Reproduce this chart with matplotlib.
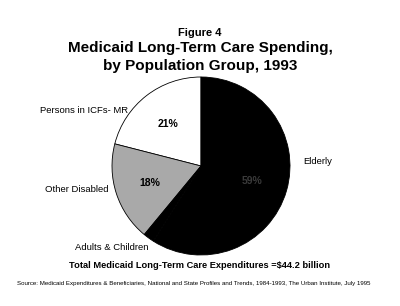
import matplotlib.pyplot as plt

plt.rcParams['font.family'] = ['Liberation Sans', 'DejaVu Sans']

# Share of Medicaid long-term care spending, 1993 (counter-clockwise from top)
groups = ['Persons in ICFs- MR', 'Other Disabled', 'Adults & Children', 'Elderly']
shares = [21, 18, 2, 59]
colors = ['white', '#a9a9a9', 'black', 'black']
pct_colors = ['black', 'black', 'black', '#3a3a3a']

fig = plt.figure(figsize=(4, 3.06), dpi=100)
fig.patch.set_facecolor('white')

# pie axes: center ~(201,166) px, radius ~89 px
ax = fig.add_axes([112 / 400, (306 - 166 - 89) / 306, 178 / 400, 178 / 306])
wedges, texts, autotexts = ax.pie(
    shares, colors=colors, startangle=90, counterclock=True,
    autopct=lambda p: f'{p:.0f}%' if p > 5 else '', pctdistance=0.6,
    wedgeprops=dict(edgecolor='black', linewidth=0.6))
for t, c in zip(autotexts, pct_colors):
    t.set_color(c)
    t.set_fontsize(7.5)
    t.set_fontweight('bold')
ax.set_xlim(-1, 1)
ax.set_ylim(-1, 1)
ax.set_aspect('equal')
ax.axis('off')

# titles
fig.text(0.5, 1 - 33 / 306, 'Figure 4', ha='center', va='center',
         fontsize=8, fontweight='bold')
fig.text(0.5, 1 - 48 / 306, 'Medicaid Long-Term Care Spending,', ha='center',
         va='center', fontsize=11, fontweight='bold')
fig.text(0.5, 1 - 66 / 306, 'by Population Group, 1993', ha='center',
         va='center', fontsize=11, fontweight='bold')

# category labels
fig.text(40 / 400, 1 - 110 / 306, groups[0], ha='left', va='center', fontsize=6.8)
fig.text(45 / 400, 1 - 190 / 306, groups[1], ha='left', va='center', fontsize=6.8)
fig.text(75 / 400, 1 - 247 / 306, groups[2], ha='left', va='center', fontsize=6.8)
fig.text(303 / 400, 1 - 162 / 306, groups[3], ha='left', va='center', fontsize=6.8)

fig.text(0.5, 1 - 265 / 306, 'Total Medicaid Long-Term Care Expenditures =$44.2 billion',
         ha='center', va='center', fontsize=6.7, fontweight='bold')
fig.text(17 / 400, 1 - 284 / 306,
         'Source: Medicaid Expenditures & Beneficiaries, National and State Profiles and Trends, 1984-1993, '
         'The Urban Institute, July 1995',
         ha='left', va='center', fontsize=4.4)

fig.savefig('out.png', dpi=100)
